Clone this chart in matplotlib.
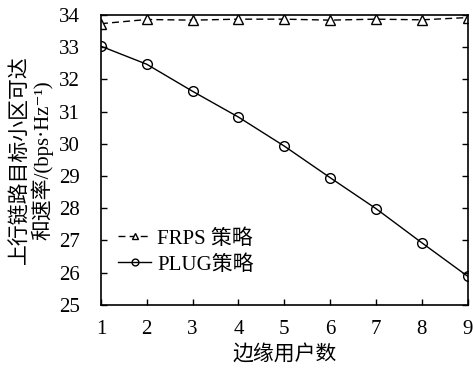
import matplotlib
matplotlib.use("Agg")
import matplotlib.pyplot as plt

x_users = [1, 2, 3, 4, 5, 6, 7, 8, 9]
frps = [33.73, 33.86, 33.84, 33.87, 33.87, 33.84, 33.87, 33.85, 33.92]
plug = [33.03, 32.47, 31.63, 30.83, 29.93, 28.95, 27.99, 26.93, 25.89]
yticks = [25, 26, 27, 28, 29, 30, 31, 32, 33, 34]
xticks = [1, 2, 3, 4, 5, 6, 7, 8, 9]

plt.rcParams['font.family'] = ['Liberation Serif', 'Noto Sans CJK SC', 'DejaVu Sans']

fig = plt.figure(figsize=(4.73, 3.70), dpi=100)
ax = fig.add_axes([0.2135, 0.176, 0.775, 0.7835])

ax.plot(x_users, frps, linestyle=(0, (5, 3)), color='black', lw=1.0,
        marker='^', markersize=7, markerfacecolor='white', markeredgecolor='black',
        label='FRPS 策略')
ax.plot(x_users, plug, linestyle='-', color='black', lw=1.0,
        marker='o', markersize=7, markerfacecolor='none', markeredgecolor='black',
        label='PLUG策略')

ax.set_xlim(1, 9)
ax.set_ylim(25, 34)
ax.set_xticks(xticks)
ax.set_yticks(yticks)
ax.tick_params(direction='in', labelsize=15, length=4, right=True, width=1)
ax.tick_params(axis='y', pad=15)
ax.tick_params(axis='x', pad=11)
for s in ax.spines.values():
    s.set_linewidth(1.2)

ax.set_xlabel('边缘用户数', fontsize=15, labelpad=4)
ax.set_ylabel('上行链路目标小区可达\n和速率/(bps·Hz⁻¹)', fontsize=15, labelpad=4, linespacing=1.0)

leg = ax.legend(loc='lower left', bbox_to_anchor=(-0.005, 0.04), frameon=False,
                fontsize=15, handlelength=1.6, handletextpad=0.3, labelspacing=0.3,
                markerscale=0.7)

fig.savefig('out.png', dpi=100)
